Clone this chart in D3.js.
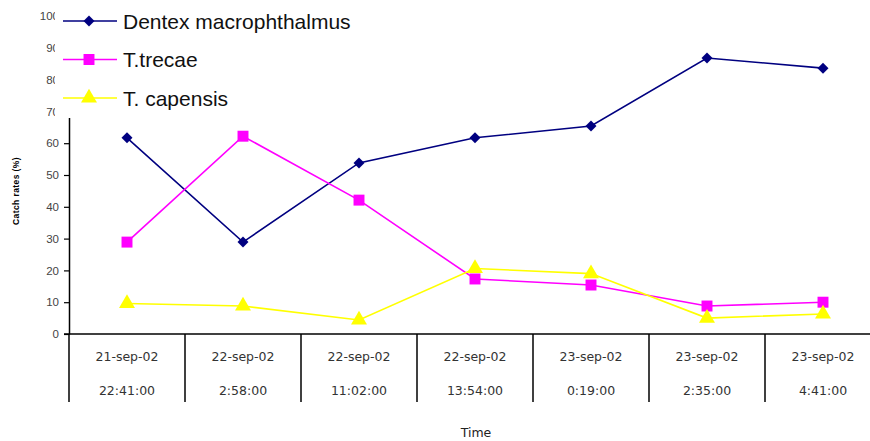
<!DOCTYPE html>
<html>
<head>
<meta charset="utf-8">
<script src="https://cdn.jsdelivr.net/npm/d3@7/dist/d3.min.js"></script>
<style>
  html, body { margin: 0; padding: 0; background: #fff; }
  svg { display: block; font-family: "Liberation Sans", Arial, sans-serif; }
</style>
</head>
<body>
<svg id="chart" width="870" height="441"></svg>
<script>
// Sampling times (date / time of each haul)
const dates = ["21-sep-02", "22-sep-02", "22-sep-02", "22-sep-02", "23-sep-02", "23-sep-02", "23-sep-02"];
const times = ["22:41:00", "2:58:00", "11:02:00", "13:54:00", "0:19:00", "2:35:00", "4:41:00"];

// Catch rates (%) per species
const dentex = [61.7, 28.9, 53.8, 61.7, 65.4, 86.8, 83.6];
const trecae = [28.9, 62.2, 42.1, 17.3, 15.4, 8.8, 10.0];
const capensis = [9.6, 8.8, 4.4, 20.6, 19.0, 5.0, 6.3];

const yTicks = [0, 10, 20, 30, 40, 50, 60, 70, 80, 90, 100];

const seriesNames = ["Dentex macrophthalmus", "T.trecae", "T. capensis"];
const seriesColors = ["#000080", "#ff00ff", "#ffff00"];
const seriesShapes = [d3.symbolSquare, d3.symbolSquare, d3.symbolTriangle];
const seriesRotate = [45, 0, 0];
const markerSizes = [60, 120, 110];
const seriesValues = [dentex, trecae, capensis];

const svg = d3.select("#chart");
const slots = d3.range(dates.length);

const x = d3.scaleBand().domain(slots).range([69, 881]).padding(0);
const y = d3.scaleLinear().domain([0, 100]).range([334, 16]);

// Y axis
const yAxis = svg.append("g")
  .attr("transform", "translate(69,0)")
  .call(d3.axisLeft(y).tickValues(yTicks).tickSize(5).tickPadding(5).tickSizeOuter(0));
yAxis.select(".domain").attr("stroke", "#000").attr("stroke-width", 1.5);
yAxis.selectAll(".tick line").attr("stroke", "#000").attr("stroke-width", 1.2);
yAxis.selectAll(".tick text")
  .attr("fill", "#444")
  .style("font-size", "11.5px")
  .style("font-family", "'Liberation Sans', Arial, sans-serif");

// X axis baseline and category dividers
svg.append("line")
  .attr("x1", 64).attr("x2", 870)
  .attr("y1", y(0)).attr("y2", y(0))
  .attr("stroke", "#000").attr("stroke-width", 1.5);

svg.append("g").selectAll("line")
  .data(slots)
  .join("line")
  .attr("x1", d => x(d)).attr("x2", d => x(d))
  .attr("y1", y(0)).attr("y2", 402)
  .attr("stroke", "#000").attr("stroke-width", 1.5);

const catLabels = svg.append("g")
  .attr("fill", "#333")
  .style("font-size", "12.5px")
  .style("font-family", "'DejaVu Sans', sans-serif")
  .attr("text-anchor", "middle");
catLabels.selectAll("text.date")
  .data(slots)
  .join("text")
  .attr("class", "date")
  .attr("x", d => x(d) + x.bandwidth() / 2)
  .attr("y", 361)
  .text(d => dates[d]);
catLabels.selectAll("text.time")
  .data(slots)
  .join("text")
  .attr("class", "time")
  .attr("x", d => x(d) + x.bandwidth() / 2)
  .attr("y", 395)
  .text(d => times[d]);

// Axis titles
svg.append("text")
  .attr("x", 476).attr("y", 437)
  .attr("text-anchor", "middle")
  .attr("fill", "#222")
  .style("font-size", "12.5px")
  .style("font-family", "'DejaVu Sans', sans-serif")
  .text("Time");

svg.append("text")
  .attr("transform", "translate(19,191) rotate(-90)")
  .attr("text-anchor", "middle")
  .attr("fill", "#000")
  .style("font-size", "8.5px")
  .style("font-weight", "bold")
  .style("letter-spacing", "0.4px")
  .text("Catch rates (%)");

// Series lines and markers
const line = d3.line()
  .x((d, i) => x(i) + x.bandwidth() / 2)
  .y(d => y(d));

seriesValues.forEach((vals, s) => {
  const g = svg.append("g");
  g.append("path")
    .datum(vals)
    .attr("d", line)
    .attr("fill", "none")
    .attr("stroke", seriesColors[s])
    .attr("stroke-width", 1.6);
  g.selectAll("path.mark")
    .data(vals)
    .join("path")
    .attr("class", "mark")
    .attr("transform", (d, i) => `translate(${x(i) + x.bandwidth() / 2},${y(d)}) rotate(${seriesRotate[s]})`)
    .attr("d", d3.symbol().type(seriesShapes[s]).size(markerSizes[s]))
    .attr("fill", seriesColors[s]);
});

// Legend (white box over the top of the plot area)
const legend = svg.append("g");
legend.append("rect")
  .attr("x", 55).attr("y", 0)
  .attr("width", 310).attr("height", 118)
  .attr("fill", "#fff");

const legendRowY = [21, 59.5, 98];
seriesNames.forEach((name, s) => {
  const row = legend.append("g").attr("transform", `translate(0,${legendRowY[s]})`);
  row.append("line")
    .attr("x1", 63).attr("x2", 117)
    .attr("stroke", seriesColors[s]).attr("stroke-width", 1.6);
  row.append("path")
    .attr("transform", `translate(89,0) rotate(${seriesRotate[s]})`)
    .attr("d", d3.symbol().type(seriesShapes[s]).size(markerSizes[s]))
    .attr("fill", seriesColors[s]);
  row.append("text")
    .attr("x", 123).attr("y", 7.5)
    .attr("fill", "#111")
    .style("font-size", "21px")
    .text(name);
});
</script>
</body>
</html>
